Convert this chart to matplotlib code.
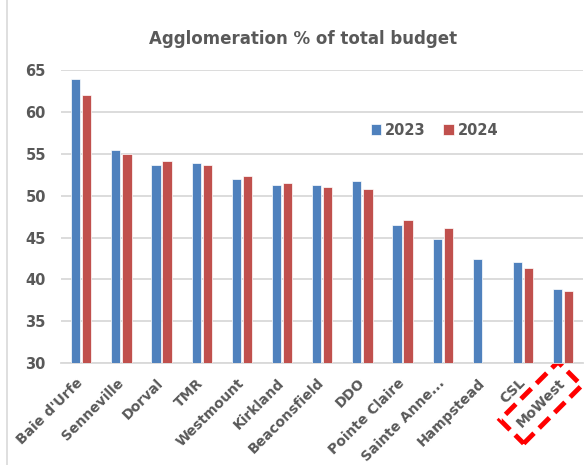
import matplotlib
matplotlib.use('Agg')
from matplotlib import pyplot as plt
from matplotlib.lines import Line2D
import numpy as np

towns = ["Baie d'Urfe", "Senneville", "Dorval", "TMR", "Westmount", "Kirkland",
         "Beaconsfield", "DDO", "Pointe Claire", "Sainte Anne...", "Hampstead",
         "CSL", "MoWest"]
pct_2023 = [63.9, 55.5, 53.7, 53.9, 52.0, 51.3, 51.3, 51.8, 46.5, 44.8, 42.5, 42.1, 38.9]
pct_2024 = [62.0, 55.0, 54.2, 53.7, 52.4, 51.5, 51.0, 50.8, 47.1, 46.1, np.nan, 41.4, 38.6]

blue = '#4F81BD'
red = '#C0504D'
grey = '#595959'

fig = plt.figure(figsize=(5.88, 4.65), dpi=100)
ax = fig.add_axes([0.104, 0.219, 0.888, 0.630])

x = np.arange(len(towns))
w = 0.23
ax.bar(x - 0.1375, pct_2023, width=w, color=blue, edgecolor='white', linewidth=0.5, label='2023', zorder=3)
ax.bar(x + 0.1375, pct_2024, width=w, color=red, edgecolor='white', linewidth=0.5, label='2024', zorder=3)

ax.set_xlim(-0.5, len(towns) - 0.5)
ax.set_ylim(30, 65)
ax.set_yticks(np.arange(30, 66, 5))
ax.yaxis.grid(True, color='#D9D9D9', linewidth=1.3, zorder=0)
ax.set_axisbelow(True)
for s in ['top', 'right', 'left']:
    ax.spines[s].set_visible(False)
ax.spines['bottom'].set_color('#D9D9D9')
ax.spines['bottom'].set_linewidth(1.3)
ax.tick_params(axis='y', length=0, pad=11, labelsize=10.5, labelcolor=grey)
for t in ax.get_yticklabels():
    t.set_fontweight('bold')

ax.set_xticks(x - 0.13)
ax.set_xticklabels(towns, rotation=45, ha='right', va='top', rotation_mode='anchor',
                   fontsize=10, fontweight='bold', color=grey)
ax.tick_params(axis='x', length=0, pad=9)

# highlight box round MoWest
lbl = ax.get_xticklabels()[-1]
lbl.set_bbox(dict(boxstyle='square,pad=0.7', fc='none', ec='#FF0000', lw=3.5, ls=(0, (3, 1.5))))

ax.legend(loc='center', bbox_to_anchor=(0.715, 0.795), ncol=2, frameon=False,
          prop={'size': 10.5, 'weight': 'bold'}, labelcolor=grey,
          handlelength=0.75, handleheight=0.75, handletextpad=0.25, columnspacing=1.2)

fig.suptitle('Agglomeration % of total budget', x=0.515, y=0.935, fontsize=12,
             fontweight='bold', color=grey)

fig.add_artist(Line2D([0.012, 0.012], [0, 1], color='#D9D9D9', lw=1.2))

plt.savefig('out.png', dpi=100)
